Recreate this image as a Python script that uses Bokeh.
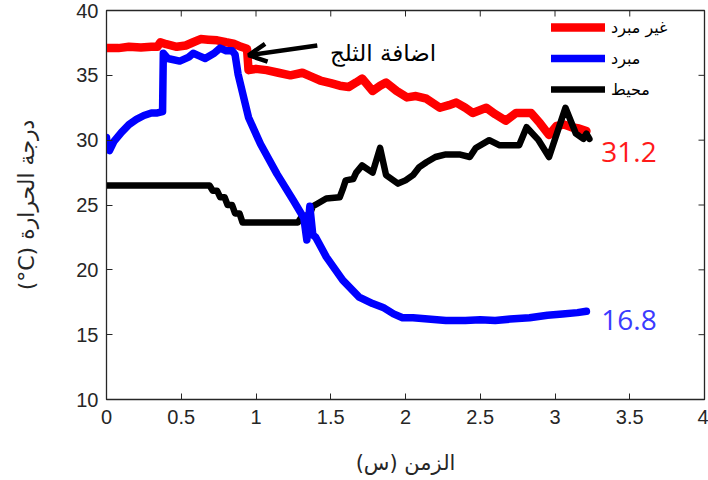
from bokeh.plotting import figure
from bokeh.models import (Range1d, Legend, LegendItem, Arrow, OpenHead,
                          FixedTicker, Label)
from bokeh.embed import file_html
from bokeh.resources import INLINE

# ---------------- data ----------------
uncooled_x = [0, 0.08, 0.15, 0.23, 0.3, 0.34, 0.36, 0.4, 0.47, 0.53, 0.58, 0.63, 0.68, 0.74,
              0.8, 0.85, 0.9, 0.94, 0.95, 1.0, 1.07, 1.15, 1.23, 1.31, 1.37, 1.43, 1.5, 1.56,
              1.62, 1.67, 1.71, 1.78, 1.83, 1.87, 1.94, 2.01, 2.07, 2.14, 2.23, 2.29, 2.34,
              2.4, 2.45, 2.54, 2.6, 2.67, 2.74, 2.84, 2.9, 2.96, 3.01, 3.06, 3.11, 3.16, 3.21]
uncooled_y = [37.1, 37.1, 37.2, 37.15, 37.2, 37.2, 37.55, 37.4, 37.2, 37.3, 37.55, 37.8, 37.75,
              37.7, 37.55, 37.45, 37.2, 37.05, 35.4, 35.5, 35.4, 35.2, 35.0, 35.2, 34.9, 34.6,
              34.4, 34.2, 34.1, 34.45, 34.75, 33.8, 34.2, 34.45, 33.8, 33.3, 33.4, 33.2, 32.5,
              32.7, 32.9, 32.5, 32.1, 32.5, 32.0, 31.5, 32.1, 32.1, 31.3, 30.4, 31.1, 31.2,
              31.0, 30.9, 30.7]

cooled_x = [0, 0.005, 0.02, 0.05, 0.1, 0.15, 0.2, 0.25, 0.3, 0.34, 0.375, 0.38, 0.41, 0.49,
            0.55, 0.58, 0.62, 0.66, 0.72, 0.76, 0.8, 0.84, 0.86, 0.88, 0.95, 1.03, 1.14, 1.25,
            1.32, 1.34, 1.36, 1.38, 1.4, 1.47, 1.58, 1.69, 1.78, 1.85, 1.92, 1.98, 2.05, 2.15,
            2.27, 2.4, 2.5, 2.6, 2.7, 2.83, 2.95, 3.05, 3.15, 3.21]
cooled_y = [30.2, 29.3, 29.2, 29.9, 30.6, 31.2, 31.6, 31.9, 32.1, 32.1, 32.2, 36.7, 36.3, 36.1,
            36.4, 36.7, 36.5, 36.3, 36.7, 37.1, 36.9, 36.9, 36.6, 35.1, 31.75, 29.7, 27.4,
            25.35, 24.0, 22.3, 24.9, 22.7, 22.5, 21.0, 19.2, 17.9, 17.4, 17.1, 16.6, 16.3,
            16.3, 16.2, 16.1, 16.1, 16.15, 16.1, 16.2, 16.3, 16.5, 16.6, 16.7, 16.8]

ambient_x = [0, 0.69, 0.71, 0.74, 0.76, 0.79, 0.81, 0.84, 0.86, 0.89, 0.91, 0.95, 1.28, 1.3,
             1.36, 1.38, 1.41, 1.47, 1.56, 1.58, 1.6, 1.65, 1.67, 1.71, 1.78, 1.83, 1.87, 1.95,
             2.0, 2.05, 2.09, 2.14, 2.2, 2.27, 2.36, 2.43, 2.47, 2.56, 2.63, 2.76, 2.81, 2.89,
             2.96, 3.07, 3.14, 3.19, 3.21, 3.23]
ambient_y = [26.5, 26.5, 26.1, 26.1, 25.6, 25.6, 25.0, 25.0, 24.35, 24.35, 23.65, 23.65, 23.65,
             24.0, 24.3, 24.9, 25.1, 25.5, 25.6, 26.2, 26.9, 27.0, 27.5, 28.05, 27.5, 29.4,
             27.3, 26.65, 26.9, 27.3, 27.9, 28.3, 28.7, 28.9, 28.9, 28.7, 29.4, 30.0, 29.6,
             29.6, 31.0, 30.0, 28.7, 32.5, 30.5, 30.1, 30.5, 30.1]

series_names = ["غير مبرد", "مبرد", "محيط"]
x_ticks = [0, 0.5, 1, 1.5, 2, 2.5, 3, 3.5, 4]
y_ticks = [10, 15, 20, 25, 30, 35, 40]
end_values = ["31.2", "16.8"]
annotation_text = "اضافة الثلج"
x_title = "الزمن (س)"
y_title = "درجة الحرارة (\u200E°C)"   # LRM keeps "°C" in left-to-right order

RLE, PDF = "\u202B", "\u202C"   # right-to-left embedding for Arabic titles

# ---------------- figure ----------------
AX = "#262626"
X0, X1, Y0, Y1 = 0, 4, 10, 40
FW, FH = 598, 389
p = figure(width=708, height=480, output_backend="svg", toolbar_location=None,
           x_range=Range1d(X0, X1), y_range=Range1d(Y0, Y1),
           min_border_left=106, min_border_right=4, min_border_top=10, min_border_bottom=81)
p.background_fill_color = "white"
p.border_fill_color = "white"
p.outline_line_color = AX
p.outline_line_width = 1.3
p.grid.visible = False

for ax in (p.xaxis[0], p.yaxis[0]):
    ax.major_tick_in = 6
    ax.major_tick_out = 0
    ax.minor_tick_line_color = None
    ax.axis_line_color = AX
    ax.major_tick_line_color = AX
    ax.major_label_text_color = AX
    ax.major_label_text_font = "Liberation Sans"
    ax.major_label_text_font_size = "20px"
    ax.axis_label_text_font = "DejaVu Sans"
    ax.axis_label_text_font_style = "normal"
    ax.axis_label_text_color = AX

p.xaxis.ticker = FixedTicker(ticks=x_ticks)
p.yaxis.ticker = FixedTicker(ticks=y_ticks)
p.xaxis.major_label_standoff = 10
p.yaxis.major_label_standoff = 8
p.xaxis.axis_label = RLE + x_title + PDF
p.yaxis.axis_label = RLE + y_title + PDF
p.xaxis.axis_label_text_font_size = "21px"
p.yaxis.axis_label_text_font_size = "22px"
p.xaxis.axis_label_standoff = 24
p.yaxis.axis_label_standoff = 34

# inward ticks on the top and right edges of the box
tick_dy = 6 * (Y1 - Y0) / FH
tick_dx = 6 * (X1 - X0) / FW
p.segment(x0=x_ticks, y0=[Y1] * len(x_ticks), x1=x_ticks, y1=[Y1 - tick_dy] * len(x_ticks),
          line_color=AX, line_width=1)
p.segment(x0=[X1] * len(y_ticks), y0=y_ticks, x1=[X1 - tick_dx] * len(y_ticks), y1=y_ticks,
          line_color=AX, line_width=1)

r_red = p.line(uncooled_x, uncooled_y, line_color="#ff0000", line_width=8.5,
               line_join="round", line_cap="round")
r_blk = p.line(ambient_x, ambient_y, line_color="black", line_width=6.5,
               line_join="round", line_cap="round")
r_blue = p.line(cooled_x, cooled_y, line_color="#0000ff", line_width=7.5,
                line_join="round", line_cap="round")

legend = Legend(items=[LegendItem(label=series_names[0], renderers=[r_red]),
                       LegendItem(label=series_names[1], renderers=[r_blue]),
                       LegendItem(label=series_names[2], renderers=[r_blk])],
                location=(445, 300), orientation="vertical",
                glyph_width=54, glyph_height=20, label_height=20, spacing=11,
                padding=0, margin=0, label_standoff=6,
                border_line_color=None, background_fill_alpha=0,
                label_text_font="DejaVu Sans", label_text_font_size="16px",
                label_text_color="black")
p.add_layout(legend)

p.add_layout(Arrow(end=OpenHead(line_width=4.5, size=18, line_color="black"),
                   x_start=1.41, y_start=37.3, x_end=0.95, y_end=36.55,
                   line_width=4.5, line_color="black"))
p.add_layout(Label(x=1.85, y=36.75, text=annotation_text, text_align="center",
                   text_baseline="middle", text_font="DejaVu Sans",
                   text_font_size="23px", text_color="black"))

p.add_layout(Label(x=3.31, y=29.05, text=end_values[0], text_align="left",
                   text_baseline="middle", text_font="Open Sans",
                   text_font_size="28px", text_color="#ff1a1a"))
p.add_layout(Label(x=3.31, y=16.1, text=end_values[1], text_align="left",
                   text_baseline="middle", text_font="Open Sans",
                   text_font_size="28px", text_color="#3b3bff"))

open("out.html", "w").write(file_html(p, INLINE))
